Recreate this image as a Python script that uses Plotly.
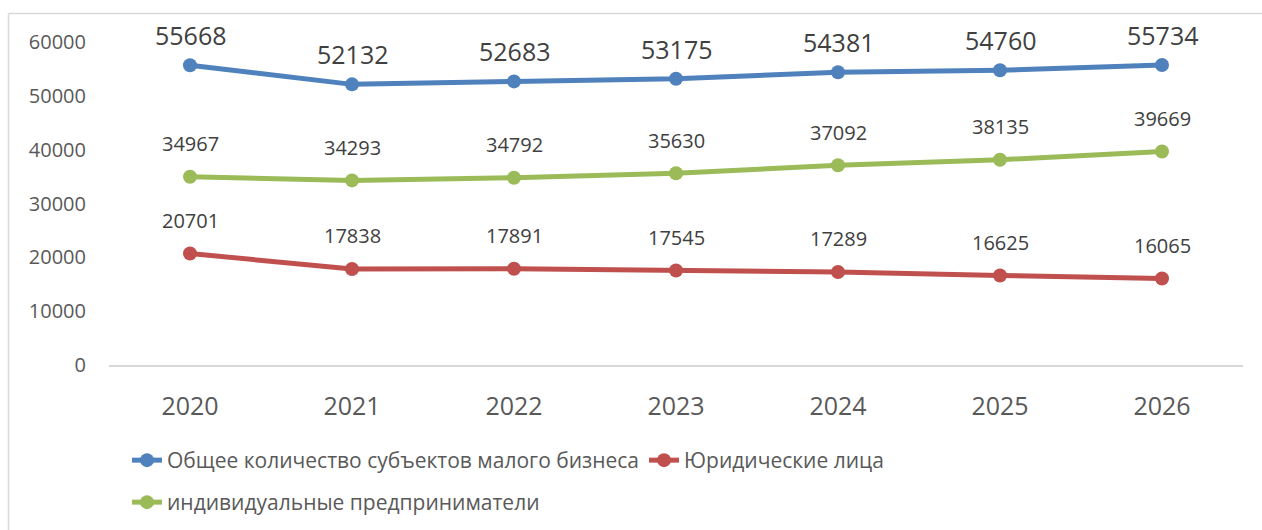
import plotly.graph_objects as go

years = ["2020", "2021", "2022", "2023", "2024", "2025", "2026"]
total = [55668, 52132, 52683, 53175, 54381, 54760, 55734]
legal = [20701, 17838, 17891, 17545, 17289, 16625, 16065]
indiv = [34967, 34293, 34792, 35630, 37092, 38135, 39669]

names = ["Общее количество субъектов малого бизнеса", "Юридические лица", "индивидуальные предприниматели"]
colors = ["#4F81BD", "#C0504D", "#9BBB59"]
series = [total, legal, indiv]
label_sizes = [25, 20, 20]
label_shift = [30, 33, 33]
legends = ["legend", "legend", "legend2"]

FONT = "Open Sans"
fig = go.Figure()
for name, col, vals, lg in zip(names, colors, series, legends):
    fig.add_trace(go.Scatter(
        x=years, y=vals, name=name, mode="lines+markers",
        line=dict(color=col, width=5), marker=dict(color=col, size=14),
        legend=lg,
    ))

annotations = []
for vals, sz, sh in zip(series, label_sizes, label_shift):
    for i, v in enumerate(vals):
        annotations.append(dict(x=i, y=v, xref="x", yref="y", text=str(v), showarrow=False,
                                yshift=sh, font=dict(family=FONT, size=sz, color="#404040")))

W, H = 1262, 530
L, R, T, B = 109, 19, 42, 165
pw, ph = W - L - R, H - T - B

def px2paper_x(p):
    return (p - L) / pw

def px2paper_y(p):
    return (H - B - p) / ph

shapes = [
    dict(type="line", xref="paper", yref="paper", x0=px2paper_x(8.5), x1=px2paper_x(1270),
         y0=px2paper_y(13.5), y1=px2paper_y(13.5), line=dict(color="#D9D9D9", width=1.5)),
    dict(type="line", xref="paper", yref="paper", x0=px2paper_x(8.5), x1=px2paper_x(8.5),
         y0=px2paper_y(13.5), y1=px2paper_y(540), line=dict(color="#D9D9D9", width=1.5)),
]

fig.update_layout(
    width=W, height=H,
    margin=dict(l=L, r=R, t=T, b=B, autoexpand=False),
    paper_bgcolor="white", plot_bgcolor="white",
    font=dict(family=FONT, color="#595959"),
    annotations=annotations,
    shapes=shapes,
    xaxis=dict(type="category", range=[-0.5, 6.5], showgrid=False, zeroline=False,
               showline=True, linecolor="#D9D9D9", linewidth=2, ticks="", automargin=False,
               tickfont=dict(size=25, color="#595959"), ticklabelstandoff=18),
    yaxis=dict(range=[0, 60000], dtick=10000, showgrid=False, zeroline=False, showline=False,
               ticks="", tickfont=dict(size=20, color="#595959"), ticklabelstandoff=22,
               tickformat="d", automargin=False),
    legend=dict(orientation="h", x=px2paper_x(127), xanchor="left", y=px2paper_y(440), yanchor="top",
                font=dict(size=21, color="#595959"), bgcolor="rgba(0,0,0,0)"),
    legend2=dict(orientation="h", x=px2paper_x(127), xanchor="left", y=px2paper_y(482), yanchor="top",
                 font=dict(size=21, color="#595959"), bgcolor="rgba(0,0,0,0)"),
    showlegend=True,
)

fig.write_html("out.html", config={"displayModeBar": False},
               post_script="document.body.style.margin='0';")
